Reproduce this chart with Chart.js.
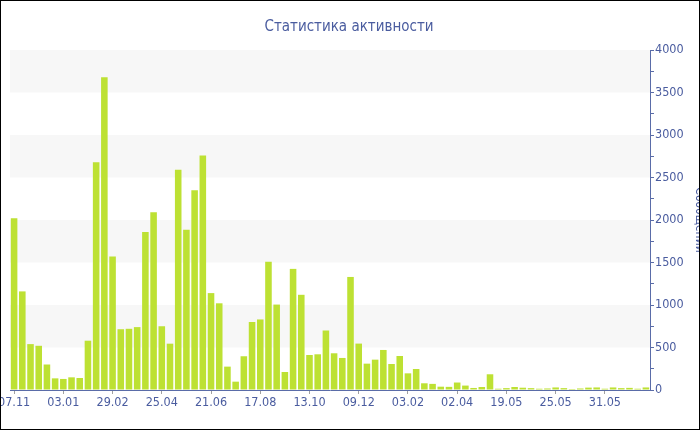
<!DOCTYPE html>
<html>
<head>
<meta charset="utf-8">
<title>Статистика активности</title>
<script src="https://cdn.jsdelivr.net/npm/chart.js@4/dist/chart.umd.min.js"></script>
<style>
  html, body { margin: 0; padding: 0; background: #fff; }
  .frame {
    position: relative;
    width: 700px;
    height: 430px;
    box-sizing: border-box;
    border: 1px solid #000;
    overflow: hidden;
  }
  #activityChart { position: absolute; left: 0; top: 0; }
</style>
</head>
<body>
<div class="frame">
  <canvas id="activityChart" width="707" height="428"></canvas>
</div>
<script>
// =====================================================
// DONNÉES
// =====================================================
const tickLabels = ["07.11", "03.01", "29.02", "25.04", "21.06", "17.08", "13.10",
  "09.12", "03.02", "02.04", "19.05", "25.05", "31.05"];
const barsPerLabel = 6;

const messages = [
  2020, 1160, 540, 520, 300, 137, 130, 149, 141, 580,
  2680, 3680, 1570, 715, 720, 740, 1860, 2090, 750, 545,
  2590, 1885, 2350, 2760, 1140, 1020, 275, 98, 397, 800,
  830, 1510, 1005, 212, 1425, 1120, 412, 420, 700, 432,
  377, 1330, 546, 310, 357, 471, 306, 400, 196, 247,
  79, 72, 39, 37, 88, 52, 24, 35, 185, 15,
  22, 35, 27, 22, 15, 18, 30, 22, 12, 18,
  28, 30, 15, 30, 22, 25, 15, 30
];

const yTicks = [0, 500, 1000, 1500, 2000, 2500, 3000, 3500, 4000];

// une catégorie par barre, seule une sur six porte une date
const categories = messages.map((v, i) =>
  i % barsPerLabel === 0 ? tickLabels[i / barsPerLabel] || "" : "");

// =====================================================
// STYLE
// =====================================================
const textColor = "#4a5c9f";
const axisColor = "#5a6ca8";
const barColor = "#bde133";
const bandColor = "#f7f7f7";
const fontFamily = "'DejaVu Sans Condensed', 'DejaVu Sans', sans-serif";

// bandes grises une sur deux
const bandsPlugin = {
  id: "bands",
  beforeDatasetsDraw(chart) {
    const { ctx, chartArea, scales } = chart;
    const y = scales.y;
    ctx.save();
    ctx.fillStyle = bandColor;
    for (let i = 1; i < yTicks.length; i += 2) {
      const top = y.getPixelForValue(yTicks[i + 1] ?? yTicks[i]);
      const bottom = y.getPixelForValue(yTicks[i]);
      ctx.fillRect(chartArea.left, top, chartArea.right - chartArea.left, bottom - top);
    }
    ctx.restore();
  }
};

// le titre est centré sur la partie visible du canvas
const titleCenterPlugin = {
  id: "titleCenter",
  afterLayout(chart) {
    const block = chart.titleBlock;
    if (!block) return;
    block.left = 0;
    block.right = 696;
  }
};

// =====================================================
// GRAPHIQUE
// =====================================================
new Chart(document.getElementById("activityChart"), {
  type: "bar",
  data: {
    labels: categories,
    datasets: [{
      label: "Сообщений",
      data: messages,
      backgroundColor: barColor,
      borderWidth: 0,
      barPercentage: 1,
      categoryPercentage: 0.8
    }]
  },
  options: {
    responsive: false,
    animation: false,
    layout: { padding: { left: 9, right: 0, top: 5, bottom: 9 } },
    plugins: {
      legend: { display: false },
      tooltip: { enabled: false },
      title: {
        display: true,
        text: "Статистика активности",
        color: textColor,
        font: { family: fontFamily, size: 15, weight: "normal" },
        padding: { top: 12, bottom: 14 }
      }
    },
    scales: {
      x: {
        offset: true,
        border: { display: true, color: axisColor, width: 1 },
        grid: {
          display: true,
          offset: false,
          drawOnChartArea: false,
          drawTicks: true,
          tickLength: 4,
          tickColor: "#a0a0a0"
        },
        ticks: {
          autoSkip: false,
          maxRotation: 0,
          padding: 1,
          color: textColor,
          font: { family: fontFamily, size: 12.5 }
        },
        afterBuildTicks: (scale) => {
          scale.ticks = scale.ticks.filter((t) => t.value % barsPerLabel === 0);
        },
        afterFit: (scale) => {
          scale.height = 30;
          scale.paddingLeft = 0;
          scale.paddingRight = 0;
        }
      },
      y: {
        position: "right",
        min: yTicks[0],
        max: yTicks[yTicks.length - 1],
        border: { display: true, color: axisColor, width: 1 },
        grid: {
          display: true,
          drawOnChartArea: false,
          drawTicks: true,
          tickLength: 4,
          tickColor: axisColor
        },
        ticks: {
          stepSize: 250,
          padding: 1,
          color: textColor,
          font: { family: fontFamily, size: 12.5 },
          callback: (value) => (yTicks.includes(value) ? value : "")
        },
        title: {
          display: true,
          text: "Сообщений",
          color: textColor,
          font: { family: fontFamily, size: 12 },
          padding: { top: 2, bottom: 2 }
        },
        afterFit: (scale) => {
          scale.width = 58;
        }
      }
    }
  },
  plugins: [bandsPlugin, titleCenterPlugin]
});
</script>
</body>
</html>
